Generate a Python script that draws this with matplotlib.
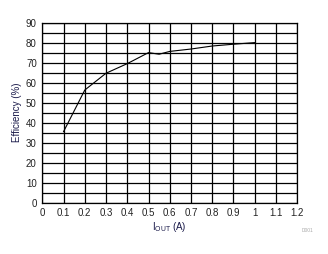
import matplotlib
matplotlib.use("Agg")
import matplotlib.pyplot as plt
import numpy as np

plt.rcParams['font.family'] = ['Liberation Sans', 'DejaVu Sans']

current = [0.1, 0.2, 0.3, 0.4, 0.5, 0.55, 0.6, 0.7, 0.8, 0.9, 1.0]
efficiency = [35.5, 56.3, 64.7, 69.5, 75.0, 74.2, 75.6, 76.8, 78.3, 79.2, 80.0]
xticks = [0, 0.1, 0.2, 0.3, 0.4, 0.5, 0.6, 0.7, 0.8, 0.9, 1, 1.1, 1.2]
xtick_labels = ['0', '0.1', '0.2', '0.3', '0.4', '0.5', '0.6', '0.7', '0.8', '0.9', '1', '1.1', '1.2']
yticks = [0, 10, 20, 30, 40, 50, 60, 70, 80, 90]

fig = plt.figure(figsize=(3.28, 2.54), dpi=100)
ax = fig.add_axes([0.129, 0.202, 0.777, 0.709])

ax.plot(current, efficiency, color='black', lw=0.8)

ax.set_xlim(0, 1.2)
ax.set_ylim(0, 90)
ax.set_xticks(xticks)
ax.set_xticklabels(xtick_labels)
ax.set_yticks(yticks)
ax.set_yticks(np.arange(5, 90, 10), minor=True)
ax.grid(True, which='both', color='black', lw=0.9)
ax.set_axisbelow(True)
ax.tick_params(which='both', length=0, labelsize=7, colors='#222222', pad=4)
for s in ax.spines.values():
    s.set_color('black')
    s.set_linewidth(0.9)

ax.set_ylabel('Efficiency (%)', fontsize=7, color='#1a1a4a', labelpad=3)
ax.set_xlabel(r'I$_{\mathregular{OUT}}$ (A)', fontsize=7, color='#1a1a4a', labelpad=1.5)

fig.text(0.955, 0.085, 'D001', fontsize=3.5, color='#aaaaaa', ha='right')

fig.savefig('out.png', dpi=100)
